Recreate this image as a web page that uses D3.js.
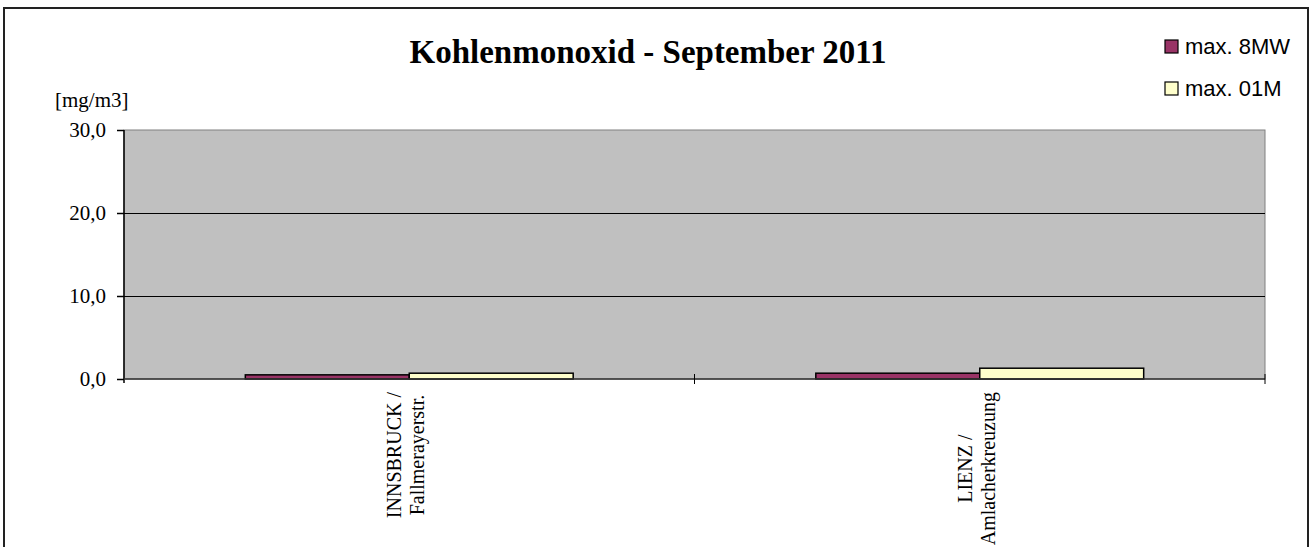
<!DOCTYPE html>
<html>
<head>
<meta charset="utf-8">
<script src="https://cdn.jsdelivr.net/npm/d3@7"></script>
<style>
  body { margin: 0; background: #fff; }
  svg { display: block; }
</style>
</head>
<body>
<svg></svg>
<script>
// Data
var stations = [
    ["INNSBRUCK /", "Fallmerayerstr."],
    ["LIENZ /", "Amlacherkreuzung"]
];
var series = ["max. 8MW", "max. 01M"];
var max8MW = [0.5, 0.7];
var max01M = [0.7, 1.3];
var yTicks = [0, 10, 20, 30];

var w = 1313, h = 547;
var margin = { top: 130, right: 48, bottom: 168, left: 124 };

var svg = d3.select("svg")
    .attr("width", w)
    .attr("height", h);

// outer chart border
svg.append("rect")
    .attr("x", 4).attr("y", 8)
    .attr("width", 1304).attr("height", 560)
    .attr("fill", "#fff")
    .attr("stroke", "#222")
    .attr("stroke-width", 2);

var color = d3.scaleOrdinal()
    .domain(series)
    .range(["#993366", "#FFFFCC"]);

var x0 = d3.scaleBand()
    .domain(d3.range(stations.length))
    .range([margin.left, w - margin.right])
    .padding(0);

var x1 = d3.scaleBand()
    .domain(series)
    .range([0, x0.bandwidth()])
    .paddingInner(0)
    .paddingOuter(0.74);

var y = d3.scaleLinear()
    .domain([0, 30])
    .range([h - margin.bottom, margin.top]);

var plotW = w - margin.right - margin.left;
var y0 = y(0);

// plot area
svg.append("rect")
    .attr("x", margin.left).attr("y", y(30))
    .attr("width", plotW).attr("height", y0 - y(30))
    .attr("fill", "#C0C0C0")
    .attr("stroke", "#808080")
    .attr("stroke-width", 1);

// gridlines
svg.append("g")
    .selectAll("line")
    .data(yTicks.filter(d => d > 0 && d < 30))
    .enter().append("line")
    .attr("x1", margin.left).attr("x2", margin.left + plotW)
    .attr("y1", d => Math.round(y(d)) + 0.5)
    .attr("y2", d => Math.round(y(d)) + 0.5)
    .attr("stroke", "#000")
    .attr("stroke-width", 1);

// bars
var values = [max8MW, max01M];
var groups = svg.append("g")
    .selectAll("g")
    .data(stations)
    .enter().append("g")
    .attr("transform", (d, i) => "translate(" + x0(i) + ",0)");

groups.selectAll("rect")
    .data((d, i) => series.map((s, k) => ({ key: s, value: values[k][i] })))
    .enter().append("rect")
    .attr("x", d => x1(d.key))
    .attr("y", d => y(d.value))
    .attr("width", x1.bandwidth())
    .attr("height", d => y0 - y(d.value))
    .attr("fill", d => color(d.key))
    .attr("stroke", "#000")
    .attr("stroke-width", 1.5);

// y axis
var yAxis = d3.axisLeft(y)
    .tickValues(yTicks)
    .tickSize(7)
    .tickPadding(11)
    .tickFormat(d => d3.format(".1f")(d).replace(".", ","));

var gy = svg.append("g")
    .attr("transform", "translate(" + margin.left + ",0)")
    .call(yAxis);
gy.select(".domain").attr("stroke", "#000").attr("stroke-width", 1.5)
    .attr("d", "M0," + y(30) + "V" + (y0 + 4));
gy.selectAll(".tick line").attr("stroke", "#000").attr("stroke-width", 1.5);
gy.selectAll("text")
    .style("font-family", "'Liberation Serif', 'Times New Roman', serif")
    .style("font-size", "21px")
    .attr("fill", "#000");

// x axis line and category ticks
svg.append("line")
    .attr("x1", margin.left).attr("x2", margin.left + plotW)
    .attr("y1", y0).attr("y2", y0)
    .attr("stroke", "#333").attr("stroke-width", 1.5);

var boundaries = d3.range(stations.length + 1).map(i => margin.left + i * x0.step());
svg.append("g")
    .selectAll("line")
    .data(boundaries.slice(1))
    .enter().append("line")
    .attr("x1", d => d).attr("x2", d => d)
    .attr("y1", y0 - 5).attr("y2", y0 + 5)
    .attr("stroke", "#000").attr("stroke-width", 1);

// category labels (rotated, two lines)
var labels = svg.append("g")
    .selectAll("g")
    .data(stations)
    .enter().append("g")
    .attr("transform", (d, i) => "translate(" + (x0(i) + x0.bandwidth() / 2) + "," + (y0 + 13) + ") rotate(-90)");

labels.each(function (lines) {
    var g = d3.select(this);
    var texts = g.selectAll("text")
        .data(lines)
        .enter().append("text")
        .attr("y", (d, k) => k === 0 ? -8 : 15)
        .attr("text-anchor", "middle")
        .style("font-family", "'Liberation Serif', 'Times New Roman', serif")
        .style("font-size", "20px")
        .attr("fill", "#000")
        .text(d => d);
    var maxLen = d3.max(texts.nodes(), n => n.getComputedTextLength());
    texts.attr("x", -maxLen / 2);
});

// y unit label
svg.append("text")
    .attr("x", 55).attr("y", 107)
    .style("font-family", "'Liberation Serif', 'Times New Roman', serif")
    .style("font-size", "21px")
    .text("[mg/m3]");

// title
svg.append("text")
    .attr("x", 648).attr("y", 63)
    .attr("text-anchor", "middle")
    .style("font-family", "'Liberation Serif', 'Times New Roman', serif")
    .style("font-size", "33px")
    .style("font-weight", "bold")
    .text("Kohlenmonoxid - September 2011");

// legend
var legend = svg.append("g")
    .attr("transform", "translate(1165,0)");

var legendItem = legend.selectAll("g")
    .data(series)
    .enter().append("g")
    .attr("transform", (d, i) => "translate(0," + (46 + i * 42) + ")");

legendItem.append("rect")
    .attr("x", 0).attr("y", -6)
    .attr("width", 13).attr("height", 13)
    .attr("fill", d => color(d))
    .attr("stroke", "#000")
    .attr("stroke-width", 1.2);

legendItem.append("text")
    .attr("x", 20).attr("y", 0)
    .attr("dy", "0.36em")
    .style("font-family", "'Liberation Sans', Arial, sans-serif")
    .style("font-size", "22px")
    .text(d => d);
</script>
</body>
</html>
